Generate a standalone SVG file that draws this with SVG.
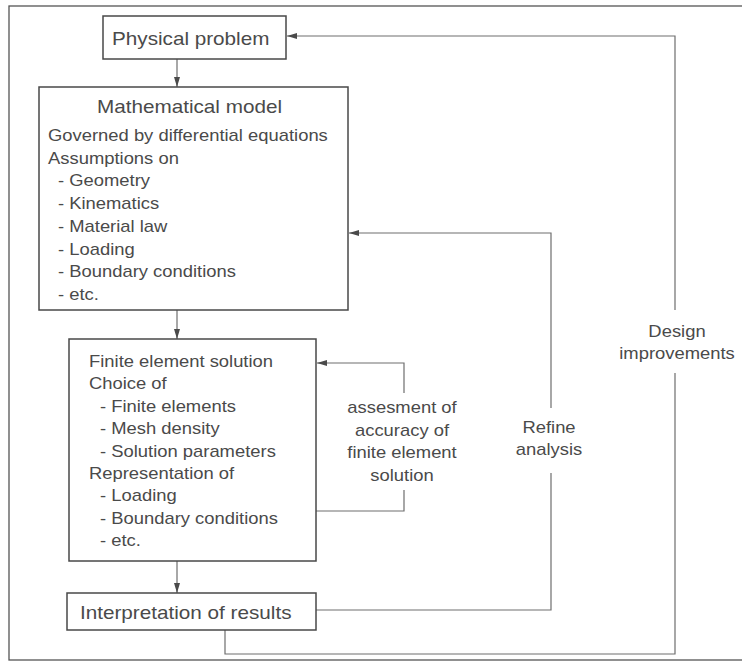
<svg xmlns="http://www.w3.org/2000/svg" width="742" height="662" viewBox="0 0 742 662">
<style>
text{font-family:"Liberation Sans",Arial,sans-serif;fill:#4a4a4a}
.t{font-size:18px}
.b{font-size:16px}
.m{text-anchor:middle}
.box{fill:#fff;stroke:#484848;stroke-width:1.5}
.frame{fill:none;stroke:#555;stroke-width:1.3}
.c{fill:none;stroke:#6e6e6e;stroke-width:1.2}
</style>
<defs>
<marker id="ah" viewBox="0 0 10 6" refX="10" refY="3" markerWidth="10" markerHeight="6" markerUnits="userSpaceOnUse" orient="auto">
<path d="M0,0 L10,3 L0,6 z" fill="#4a4a4a"/>
</marker>
</defs>
<rect class="frame" x="9" y="6" width="740" height="654"/>
<g id="connectors">
<path class="c" d="M177,59 V87" marker-end="url(#ah)"/>
<path class="c" d="M177,310 V339" marker-end="url(#ah)"/>
<path class="c" d="M177,561 V593" marker-end="url(#ah)"/>
<path class="c" d="M316,511 H404 V490 M404,393 V363 H317" marker-end="url(#ah)"/>
<path class="c" d="M316,610 H551 V473 M551,408 V233 H349" marker-end="url(#ah)"/>
<path class="c" d="M225,630 V654 H675 V373 M675,310 V36 H287" marker-end="url(#ah)"/>
<text class="b m" transform="matrix(1.15,0,0,1,402,413)">assesment of</text>
<text class="b m" transform="matrix(1.15,0,0,1,402,435.5)">accuracy of</text>
<text class="b m" transform="matrix(1.15,0,0,1,402,458)">finite element</text>
<text class="b m" transform="matrix(1.15,0,0,1,402,480.5)">solution</text>
<text class="b m" transform="matrix(1.15,0,0,1,549,433)">Refine</text>
<text class="b m" transform="matrix(1.15,0,0,1,549,455)">analysis</text>
<text class="b m" transform="matrix(1.15,0,0,1,677,337)">Design</text>
<text class="b m" transform="matrix(1.15,0,0,1,677,359)">improvements</text>
</g>
<g id="physical">
<rect class="box" x="103" y="16" width="183" height="43"/>
<text class="t" transform="matrix(1.15,0,0,1,112,45)">Physical problem</text>
</g>
<g id="math">
<rect class="box" x="39" y="87" width="309" height="223"/>
<text class="t" transform="matrix(1.15,0,0,1,97,113)">Mathematical model</text>
<text class="b" transform="matrix(1.15,0,0,1,48,141)">Governed by differential equations</text>
<text class="b" transform="matrix(1.15,0,0,1,48,163.7)">Assumptions on</text>
<text class="b" transform="matrix(1.15,0,0,1,58,186.4)">- Geometry</text>
<text class="b" transform="matrix(1.15,0,0,1,58,209.1)">- Kinematics</text>
<text class="b" transform="matrix(1.15,0,0,1,58,231.8)">- Material law</text>
<text class="b" transform="matrix(1.15,0,0,1,58,254.5)">- Loading</text>
<text class="b" transform="matrix(1.15,0,0,1,58,277.2)">- Boundary conditions</text>
<text class="b" transform="matrix(1.15,0,0,1,58,299.9)">- etc.</text>
</g>
<g id="fe">
<rect class="box" x="69" y="339" width="247" height="222"/>
<text class="b" transform="matrix(1.15,0,0,1,89,367)">Finite element solution</text>
<text class="b" transform="matrix(1.15,0,0,1,89,389.4)">Choice of</text>
<text class="b" transform="matrix(1.15,0,0,1,100,411.8)">- Finite elements</text>
<text class="b" transform="matrix(1.15,0,0,1,100,434.2)">- Mesh density</text>
<text class="b" transform="matrix(1.15,0,0,1,100,456.6)">- Solution parameters</text>
<text class="b" transform="matrix(1.15,0,0,1,89,479)">Representation of</text>
<text class="b" transform="matrix(1.15,0,0,1,100,501.4)">- Loading</text>
<text class="b" transform="matrix(1.15,0,0,1,100,523.8)">- Boundary conditions</text>
<text class="b" transform="matrix(1.15,0,0,1,100,546.2)">- etc.</text>
</g>
<g id="interp">
<rect class="box" x="67" y="593" width="249" height="37"/>
<text class="t" transform="matrix(1.15,0,0,1,80,619)">Interpretation of results</text>
</g>
</svg>
